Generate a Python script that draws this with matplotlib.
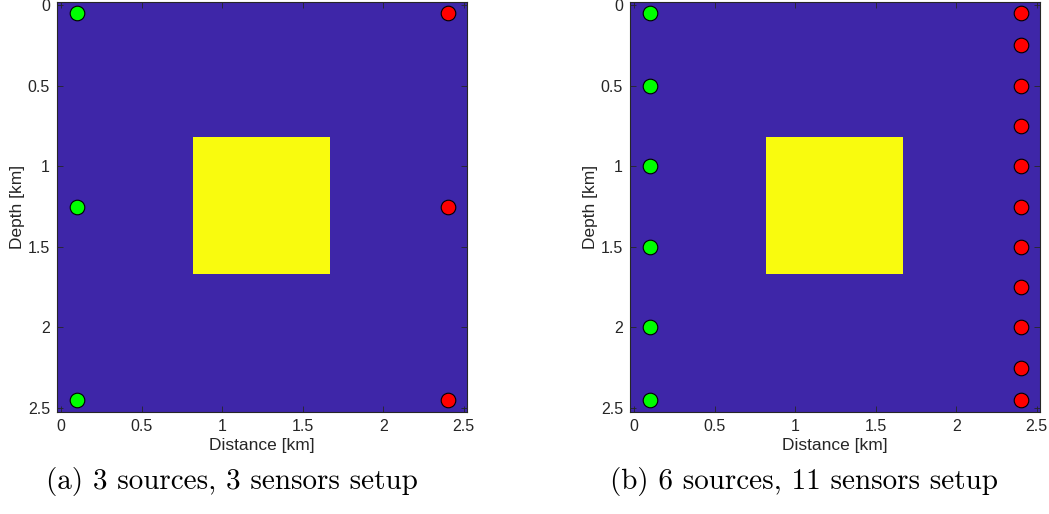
import matplotlib.pyplot as plt
import numpy as np
from matplotlib.colors import ListedColormap

# model grid and anomaly (km)
grid = np.linspace(0, 2.5, 201)
square_lo = 0.825
square_hi = 1.67

# panel (a)
src_x_a = [0.1, 0.1, 0.1]
src_z_a = [0.05, 1.25, 2.45]
rec_x_a = [2.4, 2.4, 2.4]
rec_z_a = [0.05, 1.25, 2.45]

# panel (b)
src_x_b = [0.1] * 6
src_z_b = [0.05, 0.5, 1.0, 1.5, 2.0, 2.45]
rec_x_b = [2.4] * 11
rec_z_b = [0.05, 0.25, 0.5, 0.75, 1.0, 1.25, 1.5, 1.75, 2.0, 2.25, 2.45]

ticks = [0, 0.5, 1, 1.5, 2, 2.5]
tick_labels = ['0', '0.5', '1', '1.5', '2', '2.5']
captions = ['(a) 3 sources, 3 sensors setup', '(b) 6 sources, 11 sensors setup']
caption_x = [232, 804]

plt.rcParams['font.family'] = 'Liberation Sans'

X, Z = np.meshgrid(grid, grid)
model = ((X >= square_lo) & (X <= square_hi) & (Z >= square_lo) & (Z <= square_hi)).astype(float)
cmap = ListedColormap(['#3E26A8', '#F9FB0E'])
half = (grid[1] - grid[0]) / 2

fig = plt.figure(figsize=(10.49, 5.14), dpi=100)
ax_a = fig.add_axes([57 / 1049, 102 / 514, 410 / 1049, 410 / 514])
ax_b = fig.add_axes([630 / 1049, 102 / 514, 410 / 1049, 410 / 514])

panels = [(ax_a, src_x_a, src_z_a, rec_x_a, rec_z_a),
          (ax_b, src_x_b, src_z_b, rec_x_b, rec_z_b)]

for i, (ax, sx, sz, rx, rz) in enumerate(panels):
    ax.imshow(model, cmap=cmap, extent=[-half, 2.5 + half, 2.5 + half, -half],
              interpolation='nearest', aspect='auto')
    ax.plot(sx, sz, 'o', ms=10.5, mfc='#00FF00', mec='black', mew=0.8)
    ax.plot(rx, rz, 'o', ms=10.5, mfc='#FF0000', mec='black', mew=0.8)
    ax.set_xlim(-0.025, 2.52)
    ax.set_ylim(2.525, -0.02)
    ax.set_facecolor('#3E26A8')
    ax.set_xticks(ticks)
    ax.set_xticklabels(tick_labels)
    ax.set_yticks(ticks)
    ax.set_yticklabels(tick_labels)
    ax.tick_params(direction='in', top=True, right=True, length=4, width=0.6,
                   colors='#262626', labelsize=11.5, pad=5)
    for s in ax.spines.values():
        s.set_color('#262626')
        s.set_linewidth(0.8)
    ax.set_xlabel('Distance [km]', fontsize=12.5, color='#262626', labelpad=3)
    ax.set_ylabel('Depth [km]', fontsize=12.5, color='#262626', labelpad=2)
    fig.text(caption_x[i] / 1049, 1 - 482 / 514, captions[i], family='cmr10',
             fontsize=21, ha='center', va='center')

fig.savefig('out.png', dpi=100)
